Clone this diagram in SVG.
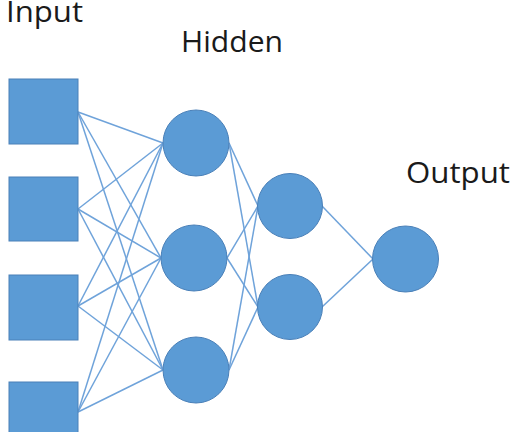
<svg xmlns="http://www.w3.org/2000/svg" width="519" height="432" viewBox="0 0 519 432">
  <style>
    .lbl { font-family: "Open Sans", "Liberation Sans", sans-serif; font-size: 29px; fill: #1a1a1a; }
    .unit { fill: #5b9bd5; stroke: #4a80b8; stroke-width: 1; }
    .conn line { stroke: #6fa3da; stroke-width: 1.5; }
  </style>
  <rect width="519" height="432" fill="#ffffff"/>

  <!-- layer titles -->
  <text class="lbl" x="6" y="22" font-size="26" textLength="77" lengthAdjust="spacingAndGlyphs">Input</text>
  <text class="lbl" x="181" y="52" textLength="102" lengthAdjust="spacingAndGlyphs">Hidden</text>
  <text class="lbl" x="406" y="183" textLength="104" lengthAdjust="spacingAndGlyphs">Output</text>

  <!-- connections between layers -->
  <g id="connectors" class="conn">
    <!-- input -> hidden 1 -->
    <line x1="78" y1="112" x2="163" y2="143"/>
    <line x1="78" y1="112" x2="161" y2="258"/>
    <line x1="78" y1="112" x2="163" y2="370"/>
    <line x1="78" y1="209" x2="163" y2="143"/>
    <line x1="78" y1="209" x2="161" y2="258"/>
    <line x1="78" y1="209" x2="163" y2="370"/>
    <line x1="78" y1="306" x2="163" y2="143"/>
    <line x1="78" y1="306" x2="161" y2="258"/>
    <line x1="78" y1="306" x2="163" y2="370"/>
    <line x1="78" y1="412" x2="163" y2="143"/>
    <line x1="78" y1="412" x2="161" y2="258"/>
    <line x1="78" y1="412" x2="163" y2="370"/>
    <!-- hidden 1 -> hidden 2 -->
    <line x1="229" y1="143" x2="258" y2="206"/>
    <line x1="229" y1="143" x2="258" y2="307"/>
    <line x1="227" y1="258" x2="258" y2="206"/>
    <line x1="227" y1="258" x2="258" y2="307"/>
    <line x1="229" y1="370" x2="258" y2="206"/>
    <line x1="229" y1="370" x2="258" y2="307"/>
    <!-- hidden 2 -> output -->
    <line x1="322" y1="206" x2="373" y2="259"/>
    <line x1="322" y1="307" x2="373" y2="259"/>
  </g>

  <!-- input units -->
  <g id="in1"><rect class="unit" x="9" y="79" width="69" height="65"/></g>
  <g id="in2"><rect class="unit" x="9" y="177" width="69" height="64"/></g>
  <g id="in3"><rect class="unit" x="9" y="275" width="69" height="65"/></g>
  <g id="in4"><rect class="unit" x="9" y="382" width="69" height="65"/></g>

  <!-- first hidden layer -->
  <g id="h1a"><circle class="unit" cx="196" cy="143" r="33"/></g>
  <g id="h1b"><circle class="unit" cx="194" cy="258" r="33"/></g>
  <g id="h1c"><circle class="unit" cx="196" cy="370" r="33"/></g>

  <!-- second hidden layer -->
  <g id="h2a"><circle class="unit" cx="290" cy="206" r="32.5"/></g>
  <g id="h2b"><circle class="unit" cx="290" cy="307" r="32.5"/></g>

  <!-- output unit -->
  <g id="out"><circle class="unit" cx="405.5" cy="259" r="33"/></g>
</svg>
